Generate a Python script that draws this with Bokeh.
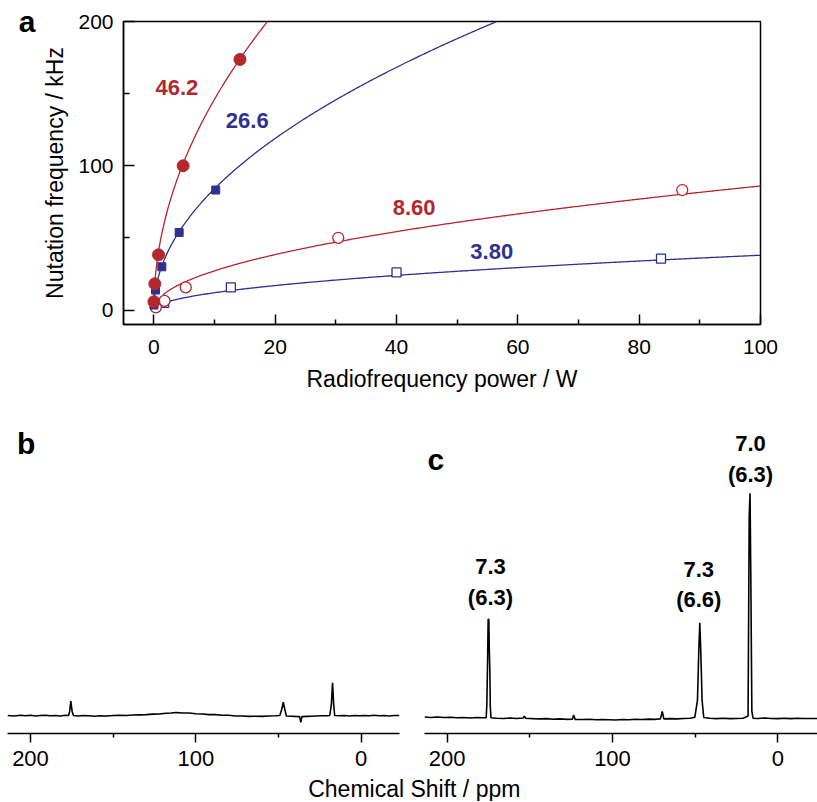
import numpy as np
from bokeh.plotting import figure
from bokeh.layouts import column, row
from bokeh.models import FixedTicker, Range1d, LinearAxis
from bokeh.embed import file_html
from bokeh.resources import INLINE
from bokeh.core.properties import value

RED = "#B3282D"
BLUE = "#2E3192"
FONT = "Liberation Sans"

# ---------------- Panel a data (power in W, nutation frequency in kHz) -------------
s462_power = [0.016, 0.16, 0.77, 4.83, 14.2]
s462_freq = [5.8, 18.2, 38.3, 100.0, 173.7]
s266_power = [0.02, 0.28, 1.32, 4.17, 10.2]
s266_freq = [3.5, 13.9, 30.0, 53.8, 83.2]
s860_power = [0.33, 1.76, 5.26, 30.4, 87.1]
s860_freq = [1.9, 6.4, 15.7, 50.1, 83.2]
s380_power = [1.7, 12.7, 40.0, 83.6]
s380_freq = [5.0, 15.7, 26.1, 35.6]

# fitted coefficients (kHz / sqrt(W)) shown as labels
fit_labels = ["46.2", "26.6", "8.60", "3.80"]
fit_coefs = [46.2, 26.6, 8.60, 3.80]
fit_start = [0.016, 0.02, 1.5, 1.7]
fit_colors = [RED, BLUE, RED, BLUE]
fit_label_x = [3.8, 15.4, 42.9, 55.7]
fit_label_y = [154.3, 131.2, 71.2, 40.4]

a_xticks = [0, 20, 40, 60, 80, 100]
a_xminor = [10, 30, 50, 70, 90]
a_yticks = [0, 100, 200]
a_yminor = [50, 150]

# ---------------- Panel b / c spectra (ppm, intensity) -----------------------------
b_ppm = [213.9, 210, 206, 203, 200, 197, 194, 191, 188, 185, 182, 179, 177, 176.3, 175.6,
         174.8, 174.0, 171, 168, 165, 161, 158, 154, 150, 146, 142, 138, 134, 130, 126, 122,
         118, 115, 112, 108, 104, 100, 96, 92, 88, 84, 80, 76, 72, 68, 64, 60, 56, 52, 49.2,
         48, 47.1, 46.2, 45.2, 42, 40, 37.2, 36.5, 35.8, 33, 30, 27, 24, 21, 19, 18, 17.3,
         16.6, 16, 13, 10, 7, 4, 1, -2, -5, -8, -11, -14, -17, -20, -23.2]
b_int = [1.2, 1.0, 1.3, 1.1, 1.3, 1.0, 1.2, 1.3, 1.1, 1.2, 1.0, 1.3, 1.2, 3.0, 7.6,
         3.0, 1.2, 1.0, 1.2, 1.1, 0.9, 1.1, 1.0, 1.2, 1.3, 1.2, 1.4, 1.5, 1.6, 1.8, 1.9,
         2.2, 2.3, 2.5, 2.3, 2.3, 2.0, 1.9, 1.6, 1.6, 1.3, 1.3, 1.0, 1.0, 0.8, 0.9, 0.8, 1.0, 1.1, 1.2,
         4.0, 7.1, 4.0, 1.0, 0.9, 0.8, 0.7, -1.8, 0.7, 0.8, 0.9, 1.0, 1.1, 1.1, 1.2, 6.0, 15.7,
         6.0, 1.2, 1.1, 1.2, 1.0, 1.2, 1.1, 1.2, 1.1, 1.3, 1.1, 1.2, 1.0, 1.2, 1.2]

c_ppm = [213.7, 210, 206, 202, 198, 194, 190, 186, 182, 178, 176.4, 176.0, 175.5, 175.2, 174.8,
         174.5, 174.2, 173.9, 173.5, 170, 166, 162, 158, 154, 153.3, 152.5, 148, 144, 140,
         136, 132, 128, 124.2, 123.5, 122.6, 118, 114, 110, 106, 102, 98, 94, 90, 86, 82,
         78, 74, 71, 69.9, 68.9, 65, 61, 57, 53, 50.2, 48.6, 47.8, 47.2, 46.6, 45.8, 44.8,
         41, 37, 33, 29, 25, 21, 18.0, 17.3, 16.8, 16.3, 15.7, 15.0, 12, 8, 4, 0, -4, -8,
         -12, -16, -20, -24.0]
c_int = [0.5, 0.3, 0.5, 0.3, 0.4, 0.2, 0.3, 0.1, 0.3, 0.2, 0.2, 6.0, 27.0, 44.0, 43.9,
         30.0, 22.0, 5.0, 0.2, 0.0, -0.1, 0.1, -0.1, 0.1, 0.9, 0.0, -0.2, -0.3, -0.2,
         -0.5, -0.3, -0.5, -0.4, 1.4, -0.5, -0.6, -0.5, -0.7, -0.6, -0.7, -0.8, -0.6, -0.7, -0.5, -0.6,
         -0.4, -0.5, -0.3, 3.0, -0.3, -0.2, -0.3, -0.1, 0.0, 0.4, 8.0, 30.0, 42.4, 30.0, 8.0, 0.3,
         0.0, -0.2, 0.0, -0.2, -0.1, 0.0, 1.0, 90.0, 100.0, 60.0, 3.0, 0.0, -0.1, 0.1, -0.1, -0.2,
         0.0, -0.2, 0.0, -0.1, -0.1, -0.1]

c_label_ppm = [173.8, 47.8, 16.5]
c_label_top = ["7.3", "7.3", "7.0"]
c_label_top_y = [67.3, 66.0, 122.3]
c_label_bottom = ["(6.3)", "(6.6)", "(6.3)"]
c_label_bottom_y = [53.6, 52.7, 108.2]

spec_xticks = [0, 100, 200]
spec_xminor = [50, 150]


def style_axis(ax, size):
    ax.axis_line_color = "black"
    ax.axis_line_width = 1.5
    ax.major_tick_line_color = "black"
    ax.minor_tick_line_color = "black"
    ax.major_tick_line_width = 1.5
    ax.minor_tick_line_width = 1.5
    ax.major_label_text_font = FONT
    ax.major_label_text_font_size = size
    ax.major_label_text_color = "black"
    ax.axis_label_text_font = FONT
    ax.axis_label_text_font_size = "23px"
    ax.axis_label_text_font_style = "normal"
    ax.axis_label_text_color = "black"


def letter(p, x, y, txt):
    p.text([x], [y], text=[txt], text_font=value(FONT), text_font_size="30px",
           text_font_style="bold", text_align="left", text_baseline="middle",
           text_color="black")


# ---------------- Panel a -----------------------------------------------------------
pa = figure(frame_width=637, frame_height=303, x_range=Range1d(-5, 100), y_range=Range1d(-10, 200),
            output_backend="svg", toolbar_location=None,
            min_border_left=123, min_border_right=57, min_border_top=21, min_border_bottom=74)
pa.grid.visible = False
pa.outline_line_color = "black"
pa.outline_line_width = 1.5

style_axis(pa.xaxis[0], "21px")
style_axis(pa.yaxis[0], "21px")
pa.xaxis.ticker = FixedTicker(ticks=a_xticks, minor_ticks=a_xminor)
pa.yaxis.ticker = FixedTicker(ticks=a_yticks, minor_ticks=a_yminor)
pa.xaxis.major_tick_in = 10
pa.xaxis.major_tick_out = 0
pa.xaxis.minor_tick_in = 5
pa.xaxis.minor_tick_out = 0
pa.yaxis.major_tick_in = 11
pa.yaxis.major_tick_out = 0
pa.yaxis.minor_tick_in = 6
pa.yaxis.minor_tick_out = 0
pa.xaxis.major_label_standoff = 15
pa.yaxis.major_label_standoff = 10
pa.xaxis.axis_label = "Radiofrequency power / W"
pa.yaxis.axis_label = "Nutation frequency / kHz"
pa.xaxis.axis_label_standoff = 9
pa.yaxis.axis_label_standoff = 7

# panel letter "a", set as the single label of an outer left axis at the top of the frame
letter_axis = LinearAxis(ticker=FixedTicker(ticks=[200]), major_label_overrides={200: "a"})
letter_axis.axis_line_color = None
letter_axis.major_tick_line_color = None
letter_axis.minor_tick_line_color = None
letter_axis.major_tick_in = 0
letter_axis.major_tick_out = 0
letter_axis.major_label_standoff = 4
letter_axis.major_label_text_font = FONT
letter_axis.major_label_text_font_size = "30px"
letter_axis.major_label_text_font_style = "bold"
letter_axis.major_label_text_color = "black"
pa.add_layout(letter_axis, "left")

for coef, start, col in zip(fit_coefs, fit_start, fit_colors):
    if start < 1:
        px = np.concatenate([np.geomspace(start, 1.0, 120), np.linspace(1.0, 100.0, 400)[1:]])
    else:
        px = np.linspace(start, 100.0, 400)
    pa.line(px, coef * np.sqrt(px), line_color=col, line_width=1.3)

pa.scatter(s380_power, s380_freq, marker="square", size=9, fill_color="white", line_color=BLUE, line_width=1.3)
pa.scatter(s860_power, s860_freq, marker="circle", size=11, fill_color="white", line_color=RED, line_width=1.3)
pa.scatter(s266_power, s266_freq, marker="square", size=8, fill_color=BLUE, line_color=BLUE)
pa.scatter(s462_power, s462_freq, marker="circle", size=12, fill_color=RED, line_color=RED)

pa.text(fit_label_x, fit_label_y, text=fit_labels, text_color=fit_colors, text_font=value(FONT),
        text_font_size="22px", text_font_style="bold", text_align="center", text_baseline="middle")


# ---------------- Panels b and c ----------------------------------------------------
def spectrum_fig(xr, fw, bl, br):
    p = figure(frame_width=fw, frame_height=335, x_range=xr, y_range=Range1d(-6.8, 142.1),
               output_backend="svg", toolbar_location=None, y_axis_type=None,
               min_border_left=bl, min_border_right=br, min_border_top=0, min_border_bottom=42)
    p.grid.visible = False
    p.outline_line_color = None
    style_axis(p.xaxis[0], "22px")
    p.xaxis.ticker = FixedTicker(ticks=spec_xticks, minor_ticks=spec_xminor)
    p.xaxis.major_tick_in = 0
    p.xaxis.major_tick_out = 9
    p.xaxis.minor_tick_in = 0
    p.xaxis.minor_tick_out = 4
    p.xaxis.major_label_standoff = 8
    return p


pb = spectrum_fig(Range1d(213.9, -23.2), 392, 7, 9)
pb.line(b_ppm, b_int, line_color="black", line_width=1.6)
letter(pb, 208.2, 122.1, "b")

pc = spectrum_fig(Range1d(213.7, -24.0), 393, 16, 0)
pc.line(c_ppm, c_int, line_color="black", line_width=1.6)
pc.text(c_label_ppm, c_label_top_y, text=c_label_top, text_font=value(FONT), text_font_size="22px",
        text_font_style="bold", text_align="center", text_baseline="middle", text_color="black")
pc.text(c_label_ppm, c_label_bottom_y, text=c_label_bottom, text_font=value(FONT), text_font_size="22px",
        text_font_style="bold", text_align="center", text_baseline="middle", text_color="black")
letter(pc, 211.9, 115.0, "c")

# shared axis title; its frame lines up with panel a's frame (page pixel coordinates, y downwards)
pl = figure(frame_width=637, frame_height=26, x_range=Range1d(123, 760), y_range=Range1d(26, 0),
            output_backend="svg", toolbar_location=None, x_axis_type=None, y_axis_type=None,
            min_border_left=123, min_border_right=57, min_border_top=0, min_border_bottom=0)
pl.grid.visible = False
pl.outline_line_color = None
pl.text([413.8], [13.0], text=["Chemical Shift / ppm"], text_font=value(FONT), text_font_size="23px",
        text_align="center", text_baseline="middle", text_color="black")

layout = column(pa, row(pb, pc), pl)
open("out.html", "w").write(file_html(layout, INLINE))
